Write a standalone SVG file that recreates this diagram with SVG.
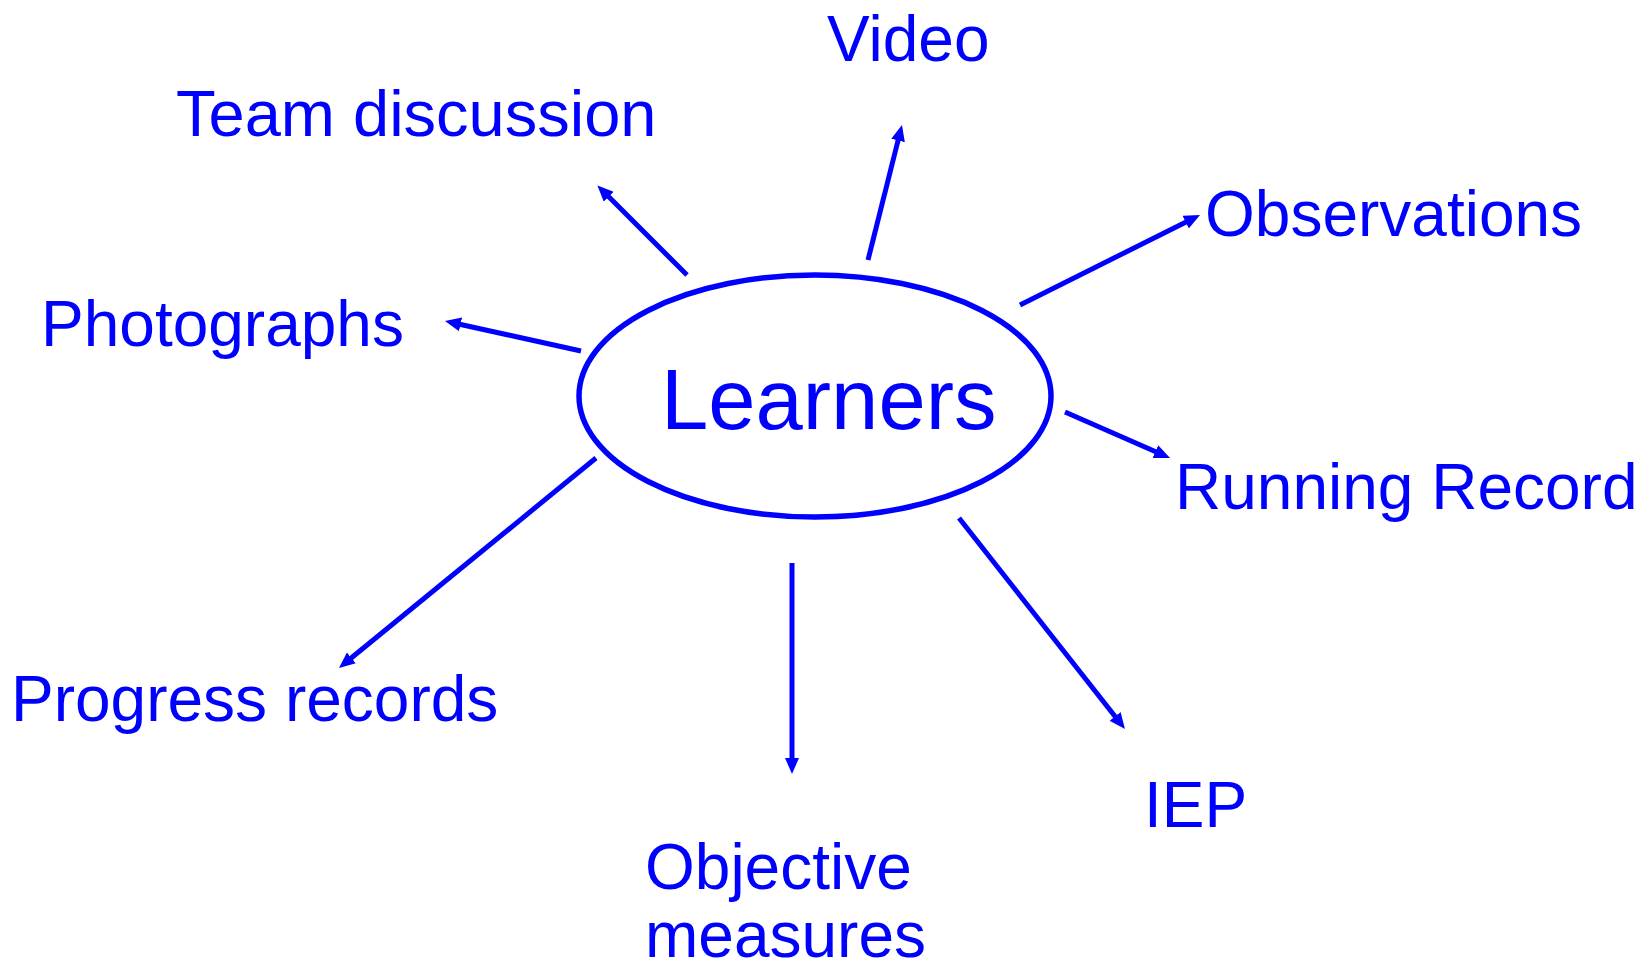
<svg xmlns="http://www.w3.org/2000/svg" width="1643" height="967" viewBox="0 0 1643 967">
<style>
.lbl{font-family:"Liberation Sans",Arial,sans-serif;font-size:64px;fill:#0000FF}
.big{font-family:"Liberation Sans",Arial,sans-serif;font-size:85px;fill:#0000FF}
.con line{stroke:#0000FF;stroke-width:5;marker-end:url(#ah)}
</style>
<defs>
<marker id="ah" markerUnits="userSpaceOnUse" markerWidth="16" markerHeight="14" refX="1" refY="7" orient="auto" viewBox="0 0 16 14">
<path d="M0,0 L16,7 L0,14 z" fill="#0000FF"/>
</marker>
</defs>
<rect width="1643" height="967" fill="#FFFFFF"/>
<g id="connectors" class="con">
<line x1="687" y1="275" x2="608" y2="196"/>
<line x1="868" y1="260" x2="898.3" y2="139.5"/>
<line x1="581" y1="351" x2="459.6" y2="324.2"/>
<line x1="1020" y1="305" x2="1186.6" y2="221.7"/>
<line x1="1065" y1="412" x2="1156.3" y2="452"/>
<line x1="596" y1="458" x2="350.6" y2="658.5"/>
<line x1="792" y1="563" x2="792" y2="759"/>
<line x1="959" y1="518" x2="1115.7" y2="717.2"/>
</g>
<g id="learners">
<ellipse cx="815" cy="396" rx="236" ry="121" fill="none" stroke="#0000FF" stroke-width="5.5"/>
<text class="big" x="661" y="429">Learners</text>
</g>
<g id="video"><text class="lbl" x="827" y="61">Video</text></g>
<g id="team"><text class="lbl" x="176" y="136" style="font-size:65px">Team discussion</text></g>
<g id="observations"><text class="lbl" x="1205" y="236">Observations</text></g>
<g id="photographs"><text class="lbl" x="41" y="346">Photographs</text></g>
<g id="running"><text class="lbl" x="1175" y="509">Running Record</text></g>
<g id="progress"><text class="lbl" x="11" y="721">Progress records</text></g>
<g id="iep"><text class="lbl" x="1144" y="827">IEP</text></g>
<g id="objective"><text class="lbl" x="645" y="889">Objective</text><text class="lbl" x="645" y="957">measures</text></g>
</svg>
